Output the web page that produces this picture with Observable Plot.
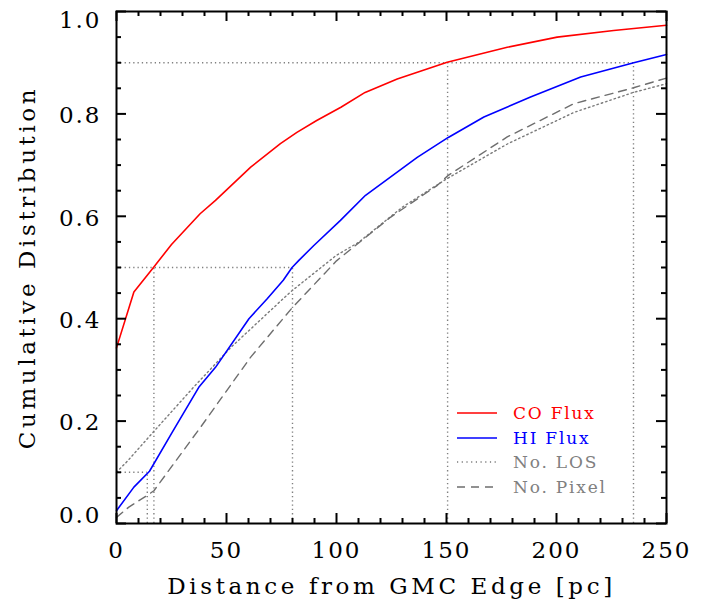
<!DOCTYPE html>
<html><head><meta charset="utf-8">
<script src="https://cdn.jsdelivr.net/npm/d3@7"></script>
<script src="https://cdn.jsdelivr.net/npm/@observablehq/plot@0.6"></script>
<style>
body{margin:0;background:#fff}
#wrap{position:relative;width:702px;height:606px}
#legend{position:absolute;left:456px;top:401px;font-family:"DejaVu Serif",serif;font-size:17px;letter-spacing:1.8px}
#legend .row{height:24.5px;display:flex;align-items:center}
#legend svg{margin-right:15px}
</style>
</head><body><div id="wrap"><div id="legend"></div></div>
<script>
// CO flux cumulative distribution
const coX = [0, 7.9, 16.8, 25, 38, 45, 61, 74.5, 82, 91, 102, 113, 127.6, 150.3, 177.6, 200.3, 226, 250];
const coY = [0.343, 0.452, 0.500, 0.545, 0.605, 0.631, 0.696, 0.742, 0.764, 0.787, 0.813, 0.842, 0.868, 0.901, 0.930, 0.950, 0.963, 0.973];
// HI flux
const hiX = [0, 7.9, 15, 25.3, 37.4, 45, 60.2, 68.5, 75.8, 79.8, 82.9, 89.7, 101.8, 113.2, 136.7, 150.8, 167, 188.2, 211, 235.1, 250];
const hiY = [0.025, 0.071, 0.102, 0.178, 0.266, 0.305, 0.400, 0.439, 0.475, 0.500, 0.514, 0.543, 0.592, 0.641, 0.715, 0.754, 0.794, 0.833, 0.872, 0.900, 0.916];
// No. LOS
const losX = [0, 5, 17, 35, 52, 79, 100, 110, 130, 150, 178, 208, 235, 250];
const losY = [0.100, 0.122, 0.180, 0.266, 0.344, 0.452, 0.524, 0.549, 0.618, 0.673, 0.742, 0.803, 0.842, 0.859];
// No. Pixel
const pixX = [0, 5.6, 14, 17, 38.2, 61, 79.8, 100, 124.5, 145.7, 150.8, 177.6, 207.9, 235, 250];
const pixY = [0.012, 0.032, 0.055, 0.064, 0.188, 0.325, 0.421, 0.513, 0.598, 0.660, 0.680, 0.755, 0.820, 0.851, 0.870];
// reference levels: where each flux curve crosses the level
const refLevels = [0.1, 0.5, 0.9];
const coRefX = [null, 17, 150.5];
const hiRefX = [14, 80, 235];

const xMajor = [0, 50, 100, 150, 200, 250];
const xMinor = [10, 20, 30, 40, 60, 70, 80, 90, 110, 120, 130, 140, 160, 170, 180, 190, 210, 220, 230, 240];
const yMajor = [0, 0.2, 0.4, 0.6, 0.8, 1.0];
const yMinor = [0.05, 0.1, 0.15, 0.25, 0.3, 0.35, 0.45, 0.5, 0.55, 0.65, 0.7, 0.75, 0.85, 0.9, 0.95];

const seriesNames = ["CO Flux", "HI Flux", "No. LOS", "No. Pixel"];
const seriesColors = ["#ff0000", "#0000ff", "#7a7a7a", "#6e6e6e"];
const textColors = ["#ff0000", "#0000ff", "#808080", "#808080"];
const seriesDash = [null, null, "1.5,3", "8,6"];

const toRows = (xs, ys) => xs.map((x, i) => ({x, y: ys[i]}));
const co = toRows(coX, coY), hi = toRows(hiX, hiY), los = toRows(losX, losY), pix = toRows(pixX, pixY);

const refs = refLevels.map((l, i) => ({level: l, xs: [coRefX[i], hiRefX[i]].filter(v => v != null)}));
const hRefs = refs.map(r => ({y: r.level, x2: d3.max(r.xs)}));
const vRefs = refs.flatMap(r => r.xs.map(x => ({x, y2: r.level})));

const W = 702, H = 606, mL = 116, mR = 36, mT = 11, mB = 83;
const fw = W - mL - mR, fh = H - mT - mB;
const refStyle = {stroke: "#808080", strokeWidth: 1.4, strokeDasharray: "1.3,3"};
const yFmt = d3.format(".1f");
const yMid = yMajor.slice(1, -1);

const chart = Plot.plot({
  width: W, height: H,
  marginLeft: mL, marginRight: mR, marginTop: mT, marginBottom: mB,
  x: {domain: [0, 250]},
  y: {domain: [0, 1]},
  style: {fontFamily: "DejaVu Serif", fontSize: "23px", background: "white", color: "black", letterSpacing: "2px"},
  marks: [
    Plot.ruleY(hRefs, {y: "y", x1: 0, x2: "x2", ...refStyle}),
    Plot.ruleX(vRefs, {x: "x", y1: 0, y2: "y2", ...refStyle}),
    Plot.line(los, {x: "x", y: "y", stroke: seriesColors[2], strokeWidth: 1.4, strokeDasharray: seriesDash[2]}),
    Plot.line(pix, {x: "x", y: "y", stroke: seriesColors[3], strokeWidth: 1.4, strokeDasharray: seriesDash[3]}),
    Plot.line(hi, {x: "x", y: "y", stroke: seriesColors[1], strokeWidth: 1.6}),
    Plot.line(co, {x: "x", y: "y", stroke: seriesColors[0], strokeWidth: 1.6}),
    // inward ticks, all four sides
    Plot.tickX(xMajor, {x: d => d, insetTop: fh - 10, stroke: "black", strokeWidth: 2}),
    Plot.tickX(xMajor, {x: d => d, insetBottom: fh - 10, stroke: "black", strokeWidth: 2}),
    Plot.tickX(xMinor, {x: d => d, insetTop: fh - 5, stroke: "black", strokeWidth: 2}),
    Plot.tickX(xMinor, {x: d => d, insetBottom: fh - 5, stroke: "black", strokeWidth: 2}),
    Plot.tickY(yMajor, {y: d => d, insetRight: fw - 10, stroke: "black", strokeWidth: 2}),
    Plot.tickY(yMajor, {y: d => d, insetLeft: fw - 10, stroke: "black", strokeWidth: 2}),
    Plot.tickY(yMinor, {y: d => d, insetRight: fw - 5, stroke: "black", strokeWidth: 2}),
    Plot.tickY(yMinor, {y: d => d, insetLeft: fw - 5, stroke: "black", strokeWidth: 2}),
    Plot.axisX(xMajor, {anchor: "bottom", tickSize: 0, tickPadding: 18, tickFormat: d => String(d),
      label: "Distance from GMC Edge [pc]", labelAnchor: "center", labelArrow: "none", labelOffset: 70}),
    Plot.axisY(yMid, {anchor: "left", tickSize: 0, tickPadding: 15, tickFormat: yFmt, dy: 2,
      label: "Cumulative Distribution", labelAnchor: "center", labelArrow: "none", labelOffset: 98}),
    Plot.axisY([yMajor[yMajor.length - 1]], {anchor: "left", tickSize: 0, tickPadding: 15, tickFormat: yFmt, dy: 9, label: null}),
    Plot.axisY([yMajor[0]], {anchor: "left", tickSize: 0, tickPadding: 15, tickFormat: yFmt, dy: -8, label: null}),
    Plot.frame({stroke: "black", strokeWidth: 2})
  ]
});
d3.select(chart).selectAll('g[aria-label$="axis label"]').style("letter-spacing", "3.6px");
const wrap = document.getElementById("wrap");
wrap.insertBefore(chart, wrap.firstChild);

// legend
const legend = document.getElementById("legend");
seriesNames.forEach((name, i) => {
  const row = document.createElement("div");
  row.className = "row";
  const svg = d3.create("svg").attr("width", 42).attr("height", 10);
  svg.append("line").attr("x1", 1).attr("x2", 41).attr("y1", 5).attr("y2", 5)
    .attr("stroke", seriesColors[i]).attr("stroke-width", 1.5)
    .attr("stroke-dasharray", i === 2 ? "1.2,3.5" : seriesDash[i]);
  row.appendChild(svg.node());
  const span = document.createElement("span");
  span.textContent = name;
  span.style.color = textColors[i];
  row.appendChild(span);
  legend.appendChild(row);
});
</script>
</body></html>
